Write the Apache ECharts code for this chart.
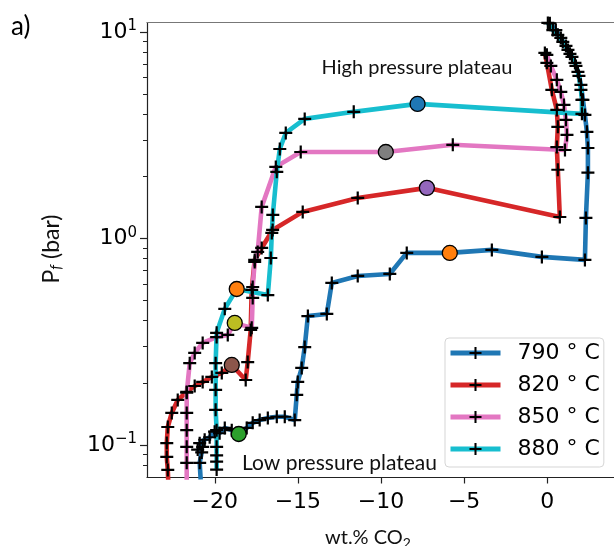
<!DOCTYPE html>
<html>
<head>
<meta charset="utf-8">
<script src="https://cdn.jsdelivr.net/npm/echarts@6/dist/echarts.min.js"></script>
<style>
    html, body {margin: 0; padding: 0; background: #fff;}
    #chart {width: 614px; height: 546px;}
</style>
</head>
<body>
<div id="chart"></div>
<script>
// 790 C
var x790 = [0.16, 0.52, 0.82, 1.13, 1.37, 1.67, 1.85, 2.03, 2.15, 2.27, 2.39, 2.45, 2.45, 2.33, 2.27,
    -0.32, -3.33, -5.86, -8.45, -9.47, -11.40, -12.96, -13.26, -14.40, -14.59, -14.77, -15.01, -15.07, -15.19,
    -15.79, -16.27, -16.81, -17.30, -17.72, -18.08, -18.56, -18.98, -19.40, -19.71, -20.01, -20.31, -20.61,
    -20.91, -20.73, -21.03, -20.79, -20.91, -20.85];
var p790 = [11.0, 10.2, 9.35, 8.55, 7.83, 7.08, 6.40, 5.54, 4.69, 3.96, 3.28, 2.74, 2.08, 1.257, 0.787,
    0.814, 0.880, 0.851, 0.851, 0.673, 0.658, 0.609, 0.431, 0.421, 0.298, 0.236, 0.202, 0.175, 0.132,
    0.137, 0.137, 0.135, 0.132, 0.128, 0.121, 0.113, 0.118, 0.121, 0.114, 0.116, 0.109, 0.106,
    0.102, 0.098, 0.095, 0.092, 0.082, 0.068];
// 820 C
var x820 = [-0.14, -0.02, 0.28, 0.58, 0.64, 0.58, 0.64, 0.76, -7.24, -11.40, -14.71, -16.52, -17.18, -17.60,
    -17.78, -17.84, -18.02, -18.14, -18.98, -19.58, -20.18, -20.73, -21.21, -21.69, -22.23, -22.59, -22.83,
    -22.89, -22.89, -22.83, -22.80];
var p820 = [7.91, 7.08, 5.24, 4.19, 3.47, 2.77, 2.15, 1.27, 1.757, 1.571, 1.344, 1.099, 0.899, 0.787,
    0.563, 0.3605, 0.252, 0.2064, 0.244, 0.2232, 0.2135, 0.2019, 0.193, 0.1806, 0.1652, 0.1429, 0.1222,
    0.1022, 0.0875, 0.0757, 0.066];
// 850 C
var x850 = [-0.02, 0.22, 0.58, 0.82, 1.01, 1.13, 1.19, 1.07, -5.68, -9.71, -14.83, -16.33, -17.18, -17.42,
    -17.60, -17.72, -17.72, -17.78, -18.80, -19.22, -19.89, -20.73, -21.21, -21.51, -21.69, -21.69, -21.69,
    -21.69, -21.69, -21.69];
var p850 = [7.74, 6.84, 5.86, 5.12, 4.43, 3.75, 3.17, 2.68, 2.84, 2.62, 2.62, 2.22, 1.42, 0.860,
    0.769, 0.582, 0.515, 0.369, 0.390, 0.341, 0.333, 0.312, 0.279, 0.249, 0.179, 0.143, 0.118,
    0.098, 0.082, 0.066];
// 880 C
var x880 = [0.04, 0.34, 0.64, 0.94, 1.25, 1.49, 1.73, 1.91, 2.03, 2.09, 2.09, -7.80, -11.64, -14.59, -15.73,
    -16.09, -16.27, -16.51, -16.57, -16.63, -16.81, -18.68, -19.40, -19.89, -19.95, -19.95, -19.95, -19.89,
    -19.89, -19.89, -19.89, -19.89];
var p880 = [11.05, 10.2, 9.67, 8.94, 8.18, 7.57, 6.84, 6.12, 5.24, 4.69, 4.01, 4.48, 4.10, 3.79, 3.24,
    2.71, 2.10, 1.30, 1.063, 0.804, 0.532, 0.569, 0.456, 0.349, 0.249, 0.185, 0.148, 0.118,
    0.098, 0.089, 0.083, 0.076];
// coloured dots
var dotX = [-7.80, -9.71, -7.24, -5.86, -18.68, -18.80, -18.98, -18.56];
var dotP = [4.48, 2.62, 1.757, 0.851, 0.569, 0.390, 0.244, 0.113];

var names = ['790 ° C', '820 ° C', '850 ° C', '880 ° C'];
var xTicks = [-20, -15, -10, -5, 0];
var yMajor = [0.1, 1, 10];
var yMinor = [0.08, 0.09, 0.2, 0.3, 0.4, 0.5, 0.6, 0.7, 0.8, 0.9, 2, 3, 4, 5, 6, 7, 8, 9];

var lineColors = ['#1f77b4', '#d62728', '#e377c2', '#17becf'];
var dotColors = ['#1f77b4', '#7f7f7f', '#9467bd', '#ff7f0e', '#ff7f0e', '#bcbd22', '#8c564b', '#2ca02c'];
var plus = 'path://M0,4.15H10V5.85H0Z M4.15,0H5.85V10H4.15Z';

var chart = echarts.init(document.getElementById('chart'));

function lineSeries(name, xs, ps, color) {
    var data = [];
    for (var i = 0; i < xs.length; i++) {
        data.push([xs[i], ps[i]]);
    }
    return {
        name: name,
        type: 'line',
        data: data,
        symbol: plus,
        symbolSize: 13,
        itemStyle: {color: '#000'},
        lineStyle: {color: color, width: 4.6},
        emphasis: {disabled: true},
        z: 2
    };
}

var dots = [];
for (var i = 0; i < dotX.length; i++) {
    dots.push({value: [dotX[i], dotP[i]], itemStyle: {color: dotColors[i]}});
}

var xMin = -24.08, xMax = 4.02, yMin = 0.0696, yMax = 11.1;

var option = {
    animation: false,
    grid: {left: 147, right: 0, top: 22.5, bottom: 68.5},
    xAxis: [{
        type: 'value',
        min: xMin,
        max: xMax,
        position: 'bottom',
        axisLine: {onZero: false, lineStyle: {color: '#222', width: 1.2}},
        axisTick: {customValues: xTicks, length: 6, lineStyle: {color: '#222', width: 1.2}},
        axisLabel: {
            customValues: xTicks,
            margin: 14,
            fontSize: 22,
            fontFamily: 'DejaVu Sans',
            color: '#000',
            formatter: function (v) {
                return v < 0 ? '\u2212' + Math.abs(v) : String(v);
            }
        },
        splitLine: {show: false}
    }, {
        type: 'value',
        min: xMin,
        max: xMax,
        position: 'top',
        axisLine: {onZero: false, lineStyle: {color: '#777', width: 1.2}},
        axisTick: {show: false},
        axisLabel: {show: false},
        splitLine: {show: false}
    }],
    yAxis: [{
        type: 'log',
        logBase: 10,
        min: yMin,
        max: yMax,
        position: 'left',
        axisLine: {show: true, onZero: false, lineStyle: {color: '#222', width: 1.2}},
        axisTick: {show: true, customValues: yMajor, length: 7, lineStyle: {color: '#222', width: 1.2}},
        axisLabel: {
            customValues: yMajor,
            margin: 10,
            formatter: function (v) {
                var e = Math.round(Math.log(v) / Math.LN10);
                return '{b|10}{s|' + (e < 0 ? '\u2212' + (-e) : e) + '}';
            },
            rich: {
                b: {fontSize: 22, fontFamily: 'DejaVu Sans', color: '#000'},
                s: {fontSize: 15, fontFamily: 'DejaVu Sans', color: '#000', padding: [0, 0, 11, 0]}
            }
        },
        splitLine: {show: false}
    }, {
        type: 'log',
        logBase: 10,
        min: yMin,
        max: yMax,
        position: 'left',
        axisLine: {show: false, onZero: false},
        axisTick: {show: true, customValues: yMinor, length: 4, lineStyle: {color: '#222', width: 1}},
        axisLabel: {show: false},
        splitLine: {show: false}
    }],
    legend: {
        data: names,
        orient: 'vertical',
        left: 445,
        top: 338,
        padding: [4, 4, 7, 3],
        itemGap: 10,
        itemWidth: 50,
        itemHeight: 15,
        selectedMode: false,
        lineStyle: {width: 5},
        backgroundColor: 'rgba(255,255,255,0.8)',
        borderColor: '#d5d5d5',
        borderWidth: 1,
        borderRadius: 4,
        textStyle: {fontSize: 22, fontFamily: 'DejaVu Sans', color: '#000', lineHeight: 22, padding: [0, 0, 0, 12]}
    },
    graphic: [{
        type: 'text', x: 11, y: 14,
        style: {text: 'a)', fontSize: 26, fontFamily: 'Lato', fill: '#000'}
    }, {
        type: 'text', x: 417, y: 68,
        style: {text: 'High pressure plateau', fontSize: 20, fontFamily: 'Lato', fill: '#111', align: 'center', verticalAlign: 'middle'}
    }, {
        type: 'text', x: 242, y: 463,
        style: {text: 'Low pressure plateau', fontSize: 21, fontFamily: 'Lato', fill: '#111', align: 'left', verticalAlign: 'middle'}
    }, {
        type: 'text', x: 52, y: 249, rotation: Math.PI / 2,
        style: {
            text: '{a|P}{f|f}{a| (bar)}', align: 'center', verticalAlign: 'middle',
            rich: {
                a: {fontSize: 23, fontFamily: 'Lato', fill: '#111'},
                f: {fontSize: 15, fontFamily: 'Lato', fontStyle: 'italic', fill: '#111', padding: [9, 0, 0, 0]}
            }
        }
    }, {
        type: 'text', x: 368, y: 538,
        style: {
            text: '{a|wt.% CO}{s|2}', align: 'center', verticalAlign: 'middle',
            rich: {
                a: {fontSize: 20, fontFamily: 'Lato', fill: '#111'},
                s: {fontSize: 14, fontFamily: 'Lato', fill: '#111', padding: [10, 0, 0, 0]}
            }
        }
    }],
    series: [
        lineSeries(names[0], x790, p790, lineColors[0]),
        lineSeries(names[1], x820, p820, lineColors[1]),
        lineSeries(names[2], x850, p850, lineColors[2]),
        lineSeries(names[3], x880, p880, lineColors[3]),
        {
            type: 'scatter',
            data: dots,
            symbolSize: 15,
            itemStyle: {borderColor: '#000', borderWidth: 1.3, opacity: 1},
            emphasis: {disabled: true},
            z: 5
        }
    ]
};
chart.setOption(option);
</script>
</body>
</html>
